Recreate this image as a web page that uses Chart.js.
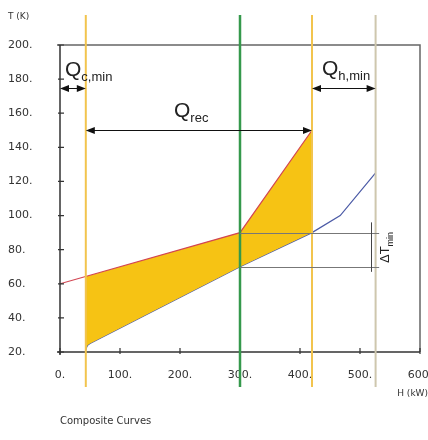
<!DOCTYPE html>
<html>
<head>
<meta charset="utf-8">
<script src="https://cdn.jsdelivr.net/npm/chart.js@4"></script>
<style>
  body { margin: 0; background: #fff; }
</style>
</head>
<body>
<canvas id="compositeChart" width="428" height="440"></canvas>
<script>
// hot and cold composite curves (H in kW, T in K)
const hotH = [0, 300, 420];
const hotT = [60, 90, 150];
const coldH = [43, 44, 46, 50, 300, 420, 467, 526];
const coldT = [21, 22.5, 24, 25, 70, 90, 100, 125];

const xTicks = [0, 100, 200, 300, 400, 500, 600];
const yTicks = [20, 40, 60, 80, 100, 120, 140, 160, 180, 200];

// vertical markers: Qc,min edge, pinch, end of recovery, Qh,min edge
const markerH = [43, 300, 420, 526];

// arrows [from H, to H, at T]
const qcMin = [0, 43, 175];
const qRec = [43, 420, 150];
const qhMin = [420, 526, 175];

// pinch temperatures
const pinchT = [90, 70];
const pinchSpan = [300, 532];
const bracketH = 518;
const bracketT = [96, 67];

const FONT = "'DejaVu Sans', sans-serif";

function arrow(ctx, x1, x2, y) {
    ctx.beginPath();
    ctx.moveTo(x1 + 2, y);
    ctx.lineTo(x2 - 2, y);
    ctx.stroke();
    [[x1, 1], [x2, -1]].forEach(([x, d]) => {
        ctx.beginPath();
        ctx.moveTo(x, y);
        ctx.lineTo(x + d * 9, y - 3.5);
        ctx.lineTo(x + d * 9, y + 3.5);
        ctx.closePath();
        ctx.fill();
    });
}

function qLabel(ctx, x, y, sub) {
    ctx.font = "21px 'Liberation Sans', sans-serif";
    ctx.textAlign = "left";
    ctx.textBaseline = "alphabetic";
    ctx.fillText("Q", x, y);
    const w = ctx.measureText("Q").width;
    ctx.font = "13px 'Liberation Sans', sans-serif";
    ctx.fillText(sub, x + w, y + 5);
}

const overlay = {
    id: "overlay",
    afterDatasetsDraw(chart) {
        const { ctx, chartArea: a, scales: { x, y } } = chart;
        ctx.save();

        // frame
        ctx.strokeStyle = "#666";
        ctx.lineWidth = 1.5;
        ctx.beginPath();
        ctx.moveTo(a.left - 3, a.top);
        ctx.lineTo(a.right, a.top);
        ctx.lineTo(a.right, a.bottom);
        ctx.stroke();

        ctx.strokeStyle = "#333";
        ctx.beginPath();
        ctx.moveTo(a.left, a.top);
        ctx.lineTo(a.left, a.bottom + 3);
        ctx.moveTo(a.left - 3, a.bottom);
        ctx.lineTo(a.right, a.bottom);
        ctx.stroke();

        // tick marks
        ctx.lineWidth = 1.2;
        ctx.beginPath();
        xTicks.forEach(v => {
            const px = x.getPixelForValue(v);
            ctx.moveTo(px, a.bottom + 2);
            ctx.lineTo(px, a.bottom - 4);
        });
        yTicks.forEach(v => {
            const py = y.getPixelForValue(v);
            ctx.moveTo(a.left - 2, py);
            ctx.lineTo(a.left + 4, py);
        });
        ctx.stroke();

        // vertical markers
        const markerStyle = [["#F2C44E", 2], ["#35994C", 2.5], ["#F2C44E", 2], ["#CEC7AE", 2]];
        markerH.forEach((h, i) => {
            const px = x.getPixelForValue(h);
            ctx.strokeStyle = markerStyle[i][0];
            ctx.lineWidth = markerStyle[i][1];
            ctx.beginPath();
            ctx.moveTo(px, 15);
            ctx.lineTo(px, 387);
            ctx.stroke();
        });

        // pinch lines
        ctx.strokeStyle = "#777";
        ctx.lineWidth = 1;
        pinchT.forEach(t => {
            const py = Math.round(y.getPixelForValue(t)) + 0.5;
            ctx.beginPath();
            ctx.moveTo(x.getPixelForValue(pinchSpan[0]), py);
            ctx.lineTo(x.getPixelForValue(pinchSpan[1]), py);
            ctx.stroke();
        });
        ctx.strokeStyle = "#444";
        const bx = Math.round(x.getPixelForValue(bracketH)) + 0.5;
        ctx.beginPath();
        ctx.moveTo(bx, y.getPixelForValue(bracketT[0]));
        ctx.lineTo(bx, y.getPixelForValue(bracketT[1]));
        ctx.stroke();

        // arrows
        ctx.strokeStyle = "#111";
        ctx.fillStyle = "#111";
        ctx.lineWidth = 1;
        [qcMin, qRec, qhMin].forEach(q => {
            arrow(ctx, x.getPixelForValue(q[0]), x.getPixelForValue(q[1]), Math.round(y.getPixelForValue(q[2])) + 0.5);
        });

        // labels
        ctx.fillStyle = "#222";
        const yc = y.getPixelForValue(qcMin[2]);
        qLabel(ctx, x.getPixelForValue(qcMin[0]) + 5, yc - 12, "c,min");
        const yr = y.getPixelForValue(qRec[2]);
        qLabel(ctx, 174, yr - 13, "rec");
        const yh = y.getPixelForValue(qhMin[2]);
        qLabel(ctx, x.getPixelForValue(qhMin[0]) + 10, yh - 13, "h,min");

        // delta T min, rotated
        ctx.save();
        ctx.translate(389, 263);
        ctx.rotate(-Math.PI / 2);
        ctx.font = "13px 'Liberation Sans', sans-serif";
        ctx.textAlign = "left";
        ctx.fillText("\u0394T", 0, 0);
        const dw = ctx.measureText("\u0394T").width;
        ctx.font = "9px 'Liberation Sans', sans-serif";
        ctx.fillText("min", dw, 4);
        ctx.restore();

        // axis titles and caption
        ctx.fillStyle = "#333";
        ctx.font = "9px " + FONT;
        ctx.textBaseline = "middle";
        ctx.textAlign = "left";
        ctx.fillText("T (K)", 8, 17);
        ctx.textAlign = "right";
        ctx.fillText("H (kW)", 428, 394);
        ctx.textAlign = "left";
        ctx.font = "10px " + FONT;
        ctx.fillText("Composite Curves", 60, 421);

        ctx.restore();
    }
};

const ctx = document.getElementById("compositeChart").getContext("2d");

new Chart(ctx, {
    type: "line",
    data: {
        datasets: [
            {
                label: "Hot composite",
                data: hotH.map((h, i) => ({ x: h, y: hotT[i] })),
                borderColor: "#D24552",
                borderWidth: 1.2,
                pointRadius: 0,
                tension: 0,
                fill: "+1",
                backgroundColor: "#F6C314"
            },
            {
                label: "Cold composite",
                data: coldH.map((h, i) => ({ x: h, y: coldT[i] })),
                borderColor: "#4B5AA6",
                borderWidth: 1.2,
                pointRadius: 0,
                tension: 0,
                fill: false
            }
        ]
    },
    options: {
        responsive: false,
        animation: false,
        layout: { padding: { left: 8, right: 8, top: 45, bottom: 0 } },
        plugins: {
            legend: { display: false },
            tooltip: { enabled: false }
        },
        scales: {
            x: {
                type: "linear",
                min: 0,
                max: 600,
                afterBuildTicks: s => { s.ticks = xTicks.map(v => ({ value: v })); },
                afterFit: s => { s.height = 88; s.paddingLeft = 0; s.paddingRight = 0; },
                grid: { display: false, drawTicks: false },
                border: { display: false },
                ticks: {
                    padding: 17,
                    maxRotation: 0,
                    color: "#333",
                    font: { family: FONT, size: 11 },
                    callback: v => v + "."
                }
            },
            y: {
                type: "linear",
                min: 20,
                max: 200,
                afterBuildTicks: s => { s.ticks = yTicks.map(v => ({ value: v })); },
                afterFit: s => { s.width = 52; s.paddingTop = 0; s.paddingBottom = 0; },
                grid: { display: false, drawTicks: false },
                border: { display: false },
                ticks: {
                    crossAlign: "far",
                    color: "#333",
                    font: { family: FONT, size: 11 },
                    callback: v => v + "."
                }
            }
        }
    },
    plugins: [overlay]
});
</script>
</body>
</html>
